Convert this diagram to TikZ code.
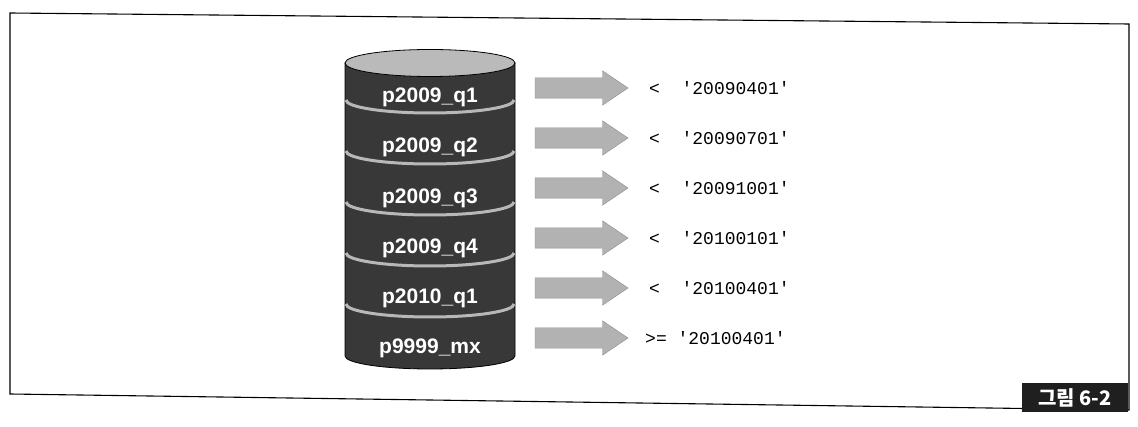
\documentclass[tikz,border=0pt]{standalone}
\usepackage{fontspec}
\setsansfont{Liberation Sans}
\setmonofont{Liberation Mono}
\newfontfamily\kofont{Noto Sans CJK KR}
\usetikzlibrary{shapes.arrows}

\begin{document}
\begin{tikzpicture}[x=1pt,y=1pt]
  \tikzstyle{part}=[text=white,font=\sffamily\bfseries\fontsize{21}{25}\selectfont,inner sep=0pt]
  \tikzstyle{bigarrow}=[single arrow,anchor=west,fill=black!30,draw=black!45,line width=0.4pt,minimum height=93pt,inner sep=10pt,outer sep=0pt,single arrow head extend=7pt,single arrow tip angle=68]
  \tikzstyle{bound}=[anchor=west,font=\ttfamily\fontsize{18}{22}\selectfont,inner sep=0pt]
  \tikzstyle{sepline}=[black!28,line width=3pt]
  \useasboundingbox (0,0) rectangle (1138,426);
  \fill[white] (0,0) rectangle (1138,426);

  \draw[line width=1.1pt] (10,413) -- (1129,402) -- (1129,16) -- (10,32) -- cycle;
  \fill[black!88] (1022,14) rectangle (1128,43);
  \node[text=white,font=\kofont\bfseries\fontsize{20}{24}\selectfont,inner sep=0pt] (fig) at (1075,28) {그림 6-2};

  \filldraw[fill=black!78,draw=black,line width=0.8pt] (345,363) -- (345,70)
    arc[start angle=180,end angle=360,x radius=85,y radius=13] -- (515,363) -- cycle;
  \draw[sepline] (346,326) arc[start angle=180,end angle=360,x radius=84,y radius=13];
  \draw[sepline] (346,275) arc[start angle=180,end angle=360,x radius=84,y radius=13];
  \draw[sepline] (346,224) arc[start angle=180,end angle=360,x radius=84,y radius=13];
  \draw[sepline] (346,173) arc[start angle=180,end angle=360,x radius=84,y radius=13];
  \draw[sepline] (346,122) arc[start angle=180,end angle=360,x radius=84,y radius=13];
  \filldraw[fill=black!27,draw=black,line width=0.8pt] (430,363) ellipse [x radius=85,y radius=13.5];

  \node[part] (P_1) at (430,329) {p2009\_q1};
  \node[part] (P_2) at (430,279) {p2009\_q2};
  \node[part] (P_3) at (430,228) {p2009\_q3};
  \node[part] (P_4) at (430,178) {p2009\_q4};
  \node[part] (P_5) at (430,128) {p2010\_q1};
  \node[part] (P_6) at (430,78) {p9999\_mx};

  \node[bigarrow] (A_1) at (535,338) {};
  \node[bigarrow] (A_2) at (535,288) {};
  \node[bigarrow] (A_3) at (535,238) {};
  \node[bigarrow] (A_4) at (535,188) {};
  \node[bigarrow] (A_5) at (535,138) {};
  \node[bigarrow] (A_6) at (535,88) {};

  \node[bound] (B_1) at (649,338) {<\ \ \textquotesingle20090401\textquotesingle};
  \node[bound] (B_2) at (649,288) {<\ \ \textquotesingle20090701\textquotesingle};
  \node[bound] (B_3) at (649,238) {<\ \ \textquotesingle20091001\textquotesingle};
  \node[bound] (B_4) at (649,188) {<\ \ \textquotesingle20100101\textquotesingle};
  \node[bound] (B_5) at (649,138) {<\ \ \textquotesingle20100401\textquotesingle};
  \node[bound] (B_6) at (645,88) {>=\ \textquotesingle20100401\textquotesingle};

\end{tikzpicture}
\end{document}
